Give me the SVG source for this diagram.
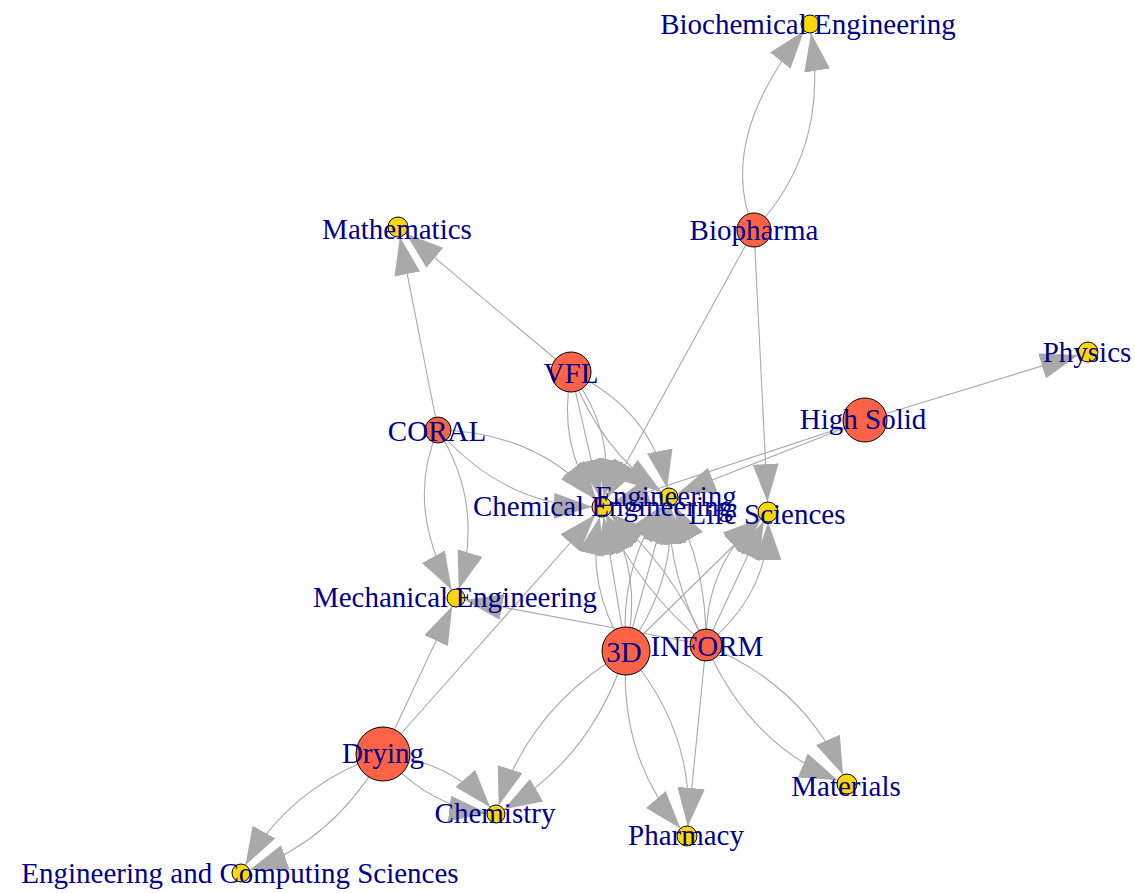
<svg xmlns="http://www.w3.org/2000/svg" width="1135" height="893" viewBox="0 0 1135 893">
<defs>
<marker id="a" markerUnits="userSpaceOnUse" markerWidth="38" markerHeight="26" refX="38" refY="13" orient="auto" viewBox="0 0 38 26"><path d="M0,0 L38,13 L0,26 z" fill="#a9a9a9"/></marker>
</defs>
<style>
.e{fill:none;stroke:#a9a9a9;stroke-width:1.1;marker-end:url(#a)}
.p{fill:#ff6347;stroke:#000;stroke-width:1}
.y{fill:#ffd700;stroke:#000;stroke-width:1}
.l{font-family:"Liberation Serif","Times New Roman",serif;font-size:29px;fill:#00008b;text-anchor:middle}
</style>
<rect width="1135" height="893" fill="#fff"/>
<g id="edges">
<path class="e" d="M754,230 Q716,141 804,31"/>
<path class="e" d="M754,230 Q830,150 811,33"/>
<path class="e" d="M754,230 L607,498"/>
<path class="e" d="M754,230 L767.5,502"/>
<path class="e" d="M571,372 L405.7,233.4"/>
<path class="e" d="M438,430 L399.9,236.8"/>
<path class="e" d="M865,420 L1078.4,354.9"/>
<path class="e" d="M865,420 L677.4,493.7"/>
<path class="e" d="M865,420 L611.5,503.9"/>
<path class="e" d="M438,430 Q405,505 451.7,590.1"/>
<path class="e" d="M438,430 Q485,505 458.7,589.4"/>
<path class="e" d="M438,430 Q537,432 595.5,499.4"/>
<path class="e" d="M438,430 Q503,504.7 592,506.8"/>
<path class="e" d="M571,372 L599.8,497.3"/>
<path class="e" d="M571,372 Q557.3,446.2 596.1,498.9"/>
<path class="e" d="M571,372 Q615.8,432.8 603.8,497.2"/>
<path class="e" d="M571,372 Q651.5,409.8 667.2,488.2"/>
<path class="e" d="M571,372 Q600.3,449.9 661.6,491.9"/>
<path class="e" d="M626,651 L603.6,516.9"/>
<path class="e" d="M626,651 Q643.6,574.1 607.3,515.5"/>
<path class="e" d="M626,651 Q584.4,583.9 599.8,516.8"/>
<path class="e" d="M626,651 L666.6,505.7"/>
<path class="e" d="M626,651 Q676.4,582.1 669.8,506"/>
<path class="e" d="M626,651 Q618.6,565.9 663.7,504.3"/>
<path class="e" d="M706,645 Q670,564 609.7,513.4"/>
<path class="e" d="M706,645 Q638,588 606.1,516.1"/>
<path class="e" d="M706,645 Q706.9,566.2 673.3,504.9"/>
<path class="e" d="M706,645 Q668.1,575.8 668.9,506"/>
<path class="e" d="M626,651 L760.9,519"/>
<path class="e" d="M706,645 L763.8,521.1"/>
<path class="e" d="M706,645 Q768.7,593.3 768.1,522"/>
<path class="e" d="M706,645 Q705.3,563.7 760.3,518.4"/>
<path class="e" d="M706,645 L464.6,600"/>
<path class="e" d="M383,754 L452.2,606.2"/>
<path class="e" d="M383,754 L595.4,514.5"/>
<path class="e" d="M383,754 Q451.2,761.9 490.1,807.2"/>
<path class="e" d="M383,754 Q427.8,806.1 487.1,813"/>
<path class="e" d="M383,754 Q289.5,786.7 245.4,865.2"/>
<path class="e" d="M383,754 Q334.5,840.3 249.5,870"/>
<path class="e" d="M626,651 Q529.7,707.5 498.7,805.4"/>
<path class="e" d="M626,651 Q592.3,757.5 503.8,809.4"/>
<path class="e" d="M626,651 Q618.5,756 680.5,828.4"/>
<path class="e" d="M626,651 Q694.5,731 687.7,826"/>
<path class="e" d="M706,645 L688,826"/>
<path class="e" d="M706,645 Q748.4,743 837.8,780.2"/>
<path class="e" d="M706,645 Q804.6,686 843,774.8"/>
</g>
<g id="n-biopharma"><circle class="p" cx="754" cy="230" r="17"/></g>
<g id="n-vfl"><circle class="p" cx="571" cy="372" r="20"/></g>
<g id="n-coral"><circle class="p" cx="438" cy="430" r="13"/></g>
<g id="n-highsolid"><circle class="p" cx="865" cy="420" r="22"/></g>
<g id="n-3d"><circle class="p" cx="626" cy="651" r="24"/></g>
<g id="n-inform"><circle class="p" cx="706" cy="645" r="16"/></g>
<g id="n-drying"><circle class="p" cx="383" cy="754" r="27"/></g>
<g id="n-biochem"><circle class="y" cx="810" cy="24" r="9"/></g>
<g id="n-math"><circle class="y" cx="398" cy="227" r="10"/></g>
<g id="n-physics"><circle class="y" cx="1088" cy="352" r="10"/></g>
<g id="n-eng"><circle class="y" cx="669" cy="497" r="9"/></g>
<g id="n-chemeng"><circle class="y" cx="602" cy="507" r="10"/></g>
<g id="n-life"><circle class="y" cx="768" cy="512" r="10"/></g>
<g id="n-mecheng"><circle class="y" cx="456" cy="598" r="9"/></g>
<g id="n-chem"><circle class="y" cx="496" cy="814" r="9"/></g>
<g id="n-pharmacy"><circle class="y" cx="687" cy="836" r="10"/></g>
<g id="n-materials"><circle class="y" cx="847" cy="784" r="10"/></g>
<g id="n-ecs"><circle class="y" cx="241" cy="873" r="9"/></g>
<g id="labels">
<text class="l" x="754" y="240">Biopharma</text>
<text class="l" x="571" y="383">VFL</text>
<text class="l" x="437" y="441">CORAL</text>
<text class="l" x="863" y="429">High Solid</text>
<text class="l" x="624" y="662">3D</text>
<text class="l" x="707" y="656">INFORM</text>
<text class="l" x="383" y="763">Drying</text>
<text class="l" x="808" y="34">Biochemical Engineering</text>
<text class="l" x="397" y="239">Mathematics</text>
<text class="l" x="1087" y="362">Physics</text>
<text class="l" x="666" y="506">Engineering</text>
<text class="l" x="603" y="516">Chemical Engineering</text>
<text class="l" x="767" y="524">Life Sciences</text>
<text class="l" x="455" y="607">Mechanical Engineering</text>
<text class="l" x="495" y="823">Chemistry</text>
<text class="l" x="686" y="845">Pharmacy</text>
<text class="l" x="846" y="796">Materials</text>
<text class="l" x="240" y="883">Engineering and Computing Sciences</text>
</g>
</svg>
